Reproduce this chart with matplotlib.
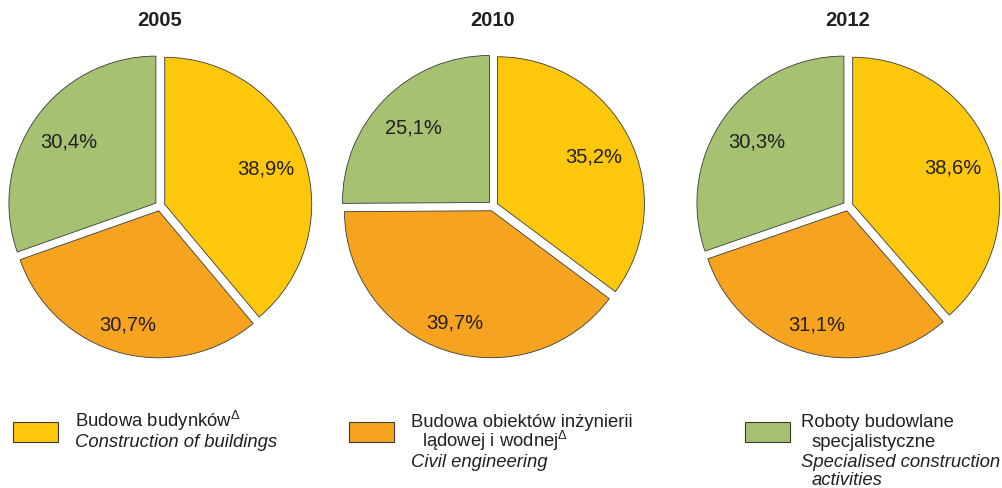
import matplotlib
matplotlib.use("Agg")
import matplotlib.pyplot as plt
from matplotlib.patches import Rectangle

plt.rcParams['font.family'] = ['Liberation Sans', 'DejaVu Sans']
plt.rcParams['mathtext.fontset'] = 'custom'
plt.rcParams['mathtext.rm'] = 'Liberation Sans'

years = ["2005", "2010", "2012"]
buildings = [38.9, 35.2, 38.6]
civil = [30.7, 39.7, 31.1]
specialised = [30.4, 25.1, 30.3]

colors = ["#FDC70C", "#F6A420", "#A5C172"]
# legend lines: (text, italic?, indent)
legend_lines = [
    [("Budowa budynków$^{\\Delta}$", False, 0), ("Construction of buildings", True, 0)],
    [("Budowa obiektów inżynierii", False, 0), ("lądowej i wodnej$^{\\Delta}$", False, 11),
     ("Civil engineering", True, 0)],
    [("Roboty budowlane", False, 0), ("specjalistyczne", False, 11),
     ("Specialised construction", True, 0), ("activities", True, 11)],
]

W, H = 1003, 489
fig = plt.figure(figsize=(W / 100, H / 100), dpi=100)
ax = fig.add_axes([0, 0, 1, 1])

centers_x = [160, 493, 848]
cy = 207
r = 147

for i, year in enumerate(years):
    vals = [buildings[i], civil[i], specialised[i]]
    wedges, texts, autotexts = ax.pie(
        vals, colors=colors, startangle=90, counterclock=False,
        center=(centers_x[i], H - cy), radius=r, explode=[5, 5, 5],
        autopct=lambda p: f"{p:.1f}%".replace(".", ","), pctdistance=0.73,
        wedgeprops=dict(edgecolor="#3a3a3a", linewidth=0.6),
        textprops=dict(fontsize=14.5, color="#231f20"), frame=True)
    # the orange label sits further out in the original
    wx, wy = wedges[1].center
    tx, ty = autotexts[1].get_position()
    k = 0.8 / 0.73
    autotexts[1].set_position((wx + (tx - wx) * k, wy + (ty - wy) * k))
    ax.text(centers_x[i], H - 21, year, ha="center", va="center",
            fontsize=14.5, fontweight="bold", color="#231f20")

ax.set_xlim(0, W)
ax.set_ylim(0, H)
ax.set_aspect("equal")
ax.axis("off")

box_x = [13, 349, 745]
text_x = [75, 411, 801]
baselines = [427, 447.5, 467, 485]
for i in range(3):
    ax.add_patch(Rectangle((box_x[i], H - 443), 45, 20, facecolor=colors[i],
                           edgecolor="#3a3a3a", linewidth=0.8))
    for j, (txt, italic, indent) in enumerate(legend_lines[i]):
        ax.text(text_x[i] + indent, H - baselines[j], txt, ha="left", va="baseline",
                fontsize=13.3, color="#231f20", style="italic" if italic else "normal")

fig.savefig("out.png", dpi=100)
